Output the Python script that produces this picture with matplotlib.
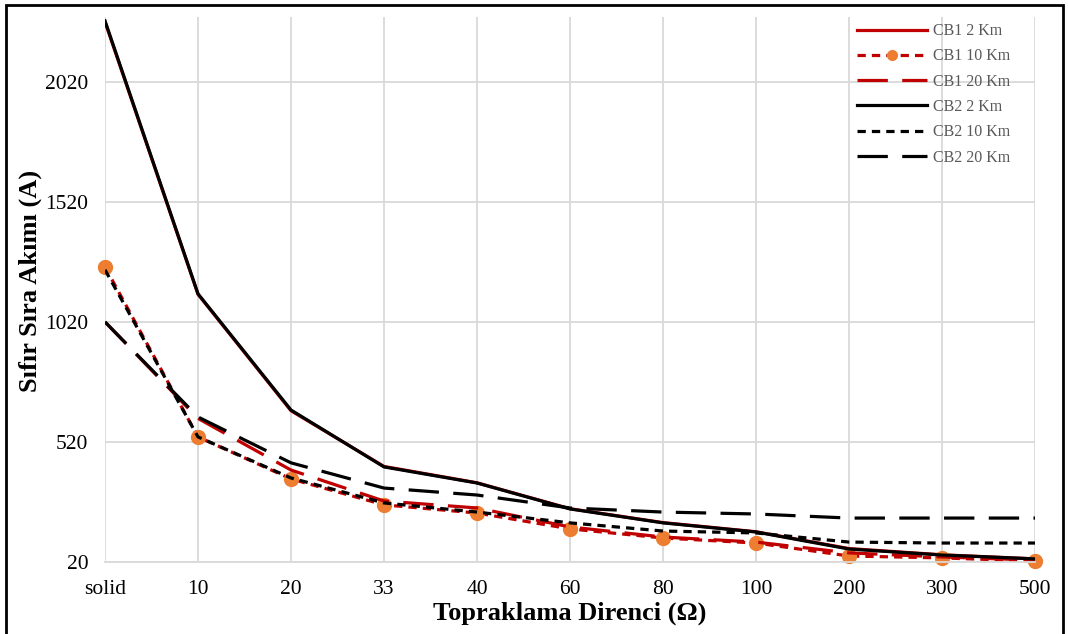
import numpy as np
import matplotlib.pyplot as plt
from matplotlib.patches import Rectangle

plt.rcParams['font.family'] = ['Liberation Serif', 'DejaVu Serif']

# categories on the x axis (grounding resistance)
categories = ['solid', '10', '20', '33', '40', '60', '80', '100', '200', '300', '500']

# zero sequence current (A)
cb1_2km = [2270, 1135, 650, 418, 350, 242, 184, 146, 76, 50, 33]
cb1_10km = [1249, 541, 366, 258, 224, 158, 120, 99, 45, 37, 24]
cb1_20km = [1020, 618, 403, 274, 245, 166, 124, 103, 58, 41, 28]
cb2_2km = [2274, 1137, 653, 416, 349, 241, 183, 145, 74, 49, 33]
cb2_10km = [1237, 541, 370, 266, 228, 183, 149, 141, 103, 99, 99]
cb2_20km = [1020, 624, 433, 328, 299, 245, 228, 220, 203, 203, 203]

red = '#C00000'
orange = '#ED7D31'
lw = 2.3
short = (2.6, 1.9)
long_ = (9.5, 4.5)

fig = plt.figure(figsize=(10.68, 6.34), dpi=100)
ax = fig.add_axes([105/1068, 1-562/634, 930/1068, 545/634])

x = np.arange(len(categories))
ax.plot(x, cb1_2km, color=red, lw=lw, label='CB1 2 Km')
ax.plot(x, cb1_10km, color=red, lw=lw, dashes=short, marker='o', ms=10,
        mfc=orange, mec=orange, clip_on=False, label='CB1 10 Km')
ax.plot(x, cb1_20km, color=red, lw=lw, dashes=long_, label='CB1 20 Km')
ax.plot(x, cb2_2km, color='black', lw=lw, label='CB2 2 Km')
ax.plot(x, cb2_10km, color='black', lw=lw, dashes=short, label='CB2 10 Km')
ax.plot(x, cb2_20km, color='black', lw=lw, dashes=long_, label='CB2 20 Km')

ax.set_xlim(0, len(categories) - 1)
ax.set_ylim(20, 2290)
ax.set_xticks(x)
ax.set_xticklabels(categories)
ax.set_yticks(np.arange(20, 2100, 500))
ax.tick_params(length=0, labelsize=15.5, pad=13)
ax.tick_params(axis='y', pad=12)
ax.grid(True, color='#D9D9D9', lw=1.3)
ax.set_axisbelow(True)
for s in ['top', 'right', 'left']:
    ax.spines[s].set_visible(False)
ax.spines['bottom'].set_color('#D9D9D9')
ax.spines['bottom'].set_linewidth(1.3)

ax.set_xlabel('Topraklama Direnci (Ω)', fontsize=19, fontweight='bold', labelpad=2)
ax.set_ylabel('Sıfır Sıra Akımı (A)', fontsize=19, fontweight='bold')
ax.yaxis.set_label_coords(-0.068, 0.515)

leg = ax.legend(loc='upper left', bbox_to_anchor=(854/1068, 1-20/634),
                bbox_transform=fig.transFigure, frameon=False,
                fontsize=11.5, handlelength=4.4, labelspacing=0.58,
                handletextpad=0.35, borderaxespad=0, borderpad=0.2,
                markerscale=0.7)
for t in leg.get_texts():
    t.set_color('#595959')

# outer chart border
fig.patches.append(Rectangle((6/1068, -0.02), 1057/1068, 1-5/634+0.02,
                             transform=fig.transFigure, fill=False,
                             edgecolor='black', lw=2))

fig.savefig('out.png', dpi=100)
